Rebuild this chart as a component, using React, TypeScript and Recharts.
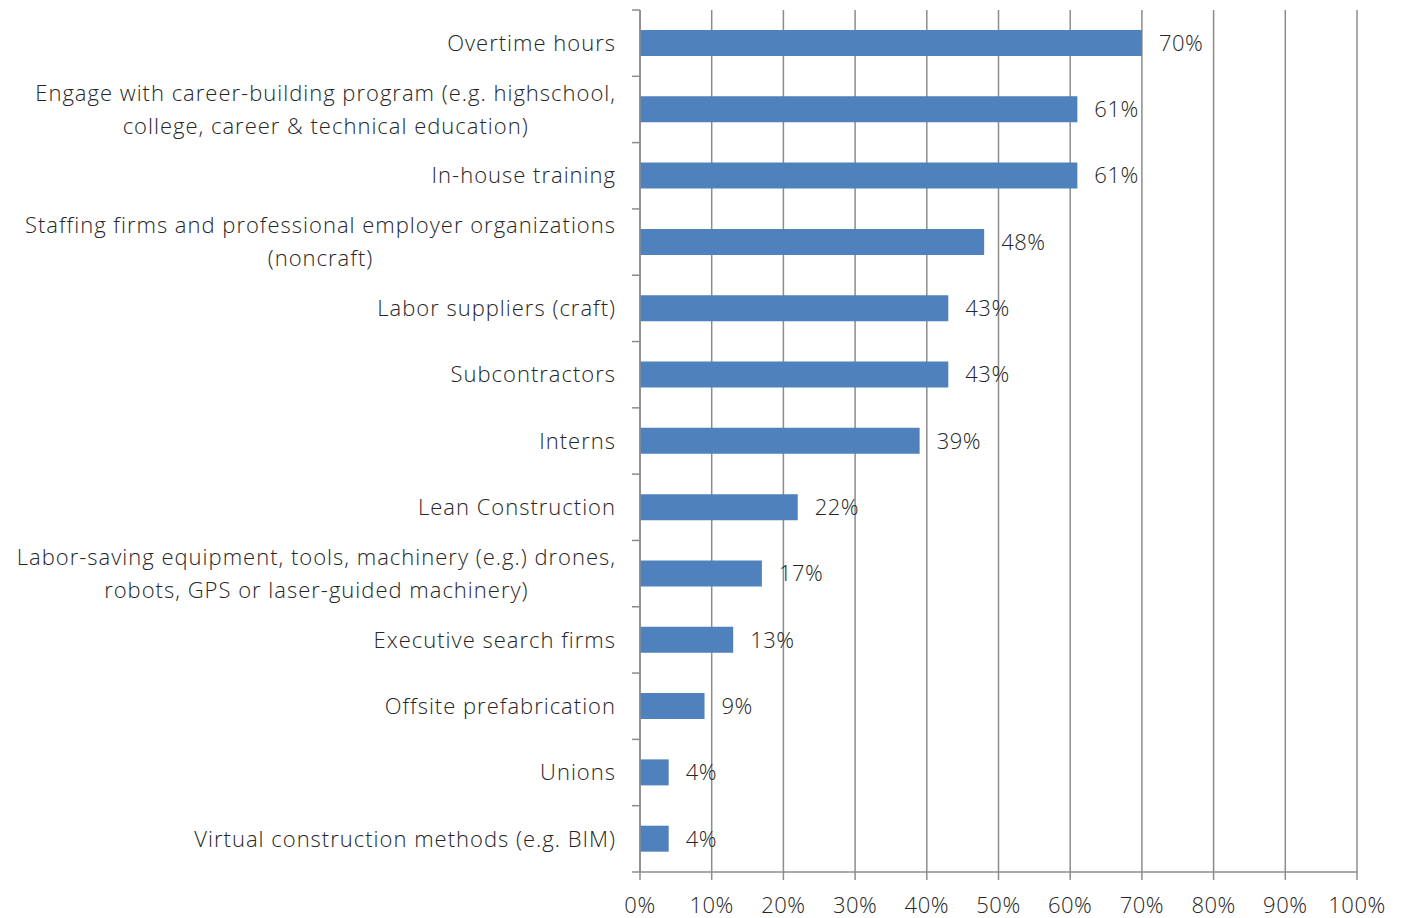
import React from "react";
import { BarChart, Bar, XAxis, YAxis, CartesianGrid, LabelList } from "recharts";

const categories = [
  "Overtime hours",
  "Engage with career-building program (e.g. highschool,\ncollege, career & technical education)",
  "In-house training",
  "Staffing firms and professional employer organizations\n(noncraft)",
  "Labor suppliers (craft)",
  "Subcontractors",
  "Interns",
  "Lean Construction",
  "Labor-saving equipment, tools, machinery (e.g.) drones,\nrobots, GPS or laser-guided machinery)",
  "Executive search firms",
  "Offsite prefabrication",
  "Unions",
  "Virtual construction methods (e.g. BIM)",
];
const values = [70, 61, 61, 48, 43, 43, 39, 22, 17, 13, 9, 4, 4];
const xTicks = [0, 10, 20, 30, 40, 50, 60, 70, 80, 90, 100];

const data = categories.map((c, i) => ({ name: c, value: values[i] }));

const W = 1405;
const H = 918;
const MARGIN = { top: 10, right: 48, bottom: 0, left: 0 };
const X_AXIS_H = 46;
const Y_AXIS_W = 640;
const PLOT_H = H - MARGIN.top - MARGIN.bottom - X_AXIS_H;
const BAND = PLOT_H / categories.length;
const FONT_FAMILY = "'Open Sans', Lato, sans-serif";
const FONT_SIZE = 22;
const FONT_WEIGHT = 300;
const LETTER_SP = 1;
const AXIS_COLOR = "#8c8c8c";
const TEXT_COLOR = "#262626";
const LINE_H = 33;

let canvasCtx: CanvasRenderingContext2D | null = null;
const measure = (t: string) => {
  if (!canvasCtx) {
    const c = document.createElement("canvas");
    canvasCtx = c.getContext("2d");
  }
  if (!canvasCtx) return t.length * 12;
  canvasCtx.font = `${FONT_WEIGHT} ${FONT_SIZE}px ${FONT_FAMILY}`;
  return canvasCtx.measureText(t).width + t.length * LETTER_SP;
};

const CatTick = (props: any) => {
  const { x, y, payload, index } = props;
  const lines = String(payload.value).split("\n");
  const maxW = Math.max(...lines.map(measure));
  const right = x - 25 + LETTER_SP;
  const cx = right - maxW / 2;
  const startY = y - ((lines.length - 1) * LINE_H) / 2;
  const last = index === categories.length - 1;
  return (
    <g>
      <line x1={x - 8} x2={x} y1={y - BAND / 2} y2={y - BAND / 2} stroke={AXIS_COLOR} strokeWidth={1.5} />
      {last && (
        <line x1={x - 8} x2={x} y1={y + BAND / 2} y2={y + BAND / 2} stroke={AXIS_COLOR} strokeWidth={1.5} />
      )}
      {lines.map((l, i) => (
        <text
          key={i}
          x={cx}
          y={startY + i * LINE_H}
          dy="0.35em"
          textAnchor="middle"
          fill={TEXT_COLOR}
          fontFamily={FONT_FAMILY}
          fontSize={FONT_SIZE}
          fontWeight={FONT_WEIGHT}
          letterSpacing={LETTER_SP}
        >
          {l}
        </text>
      ))}
    </g>
  );
};

export default function App() {
  return (
    <div style={{ position: "absolute", left: 0, top: 0, width: W, height: H, background: "#fff" }}>
      <BarChart width={W} height={H} data={data} layout="vertical" margin={MARGIN}>
        <CartesianGrid horizontal={false} vertical={true} stroke={AXIS_COLOR} strokeWidth={1.5} />
        <XAxis
          type="number"
          domain={[0, 100]}
          ticks={xTicks}
          interval={0}
          height={X_AXIS_H}
          tickFormatter={(v: number) => `${v}%`}
          stroke={AXIS_COLOR}
          strokeWidth={1.5}
          tickSize={8}
          tickMargin={17}
          tick={{ fill: TEXT_COLOR, fontFamily: FONT_FAMILY, fontSize: FONT_SIZE, fontWeight: FONT_WEIGHT, letterSpacing: 0.5 }}
        />
        <YAxis
          type="category"
          dataKey="name"
          width={Y_AXIS_W}
          interval={0}
          tickLine={false}
          tickSize={0}
          tickMargin={0}
          stroke={AXIS_COLOR}
          strokeWidth={1.5}
          tick={<CatTick />}
        />
        <Bar dataKey="value" fill="#4F81BD" barSize={26} isAnimationActive={false}>
          <LabelList
            dataKey="value"
            position="right"
            offset={17}
            formatter={(v: number) => `${v}%`}
            fill={TEXT_COLOR}
            fontFamily={FONT_FAMILY}
            fontSize={FONT_SIZE}
            fontWeight={FONT_WEIGHT}
            letterSpacing={0.5}
          />
        </Bar>
      </BarChart>
    </div>
  );
}
